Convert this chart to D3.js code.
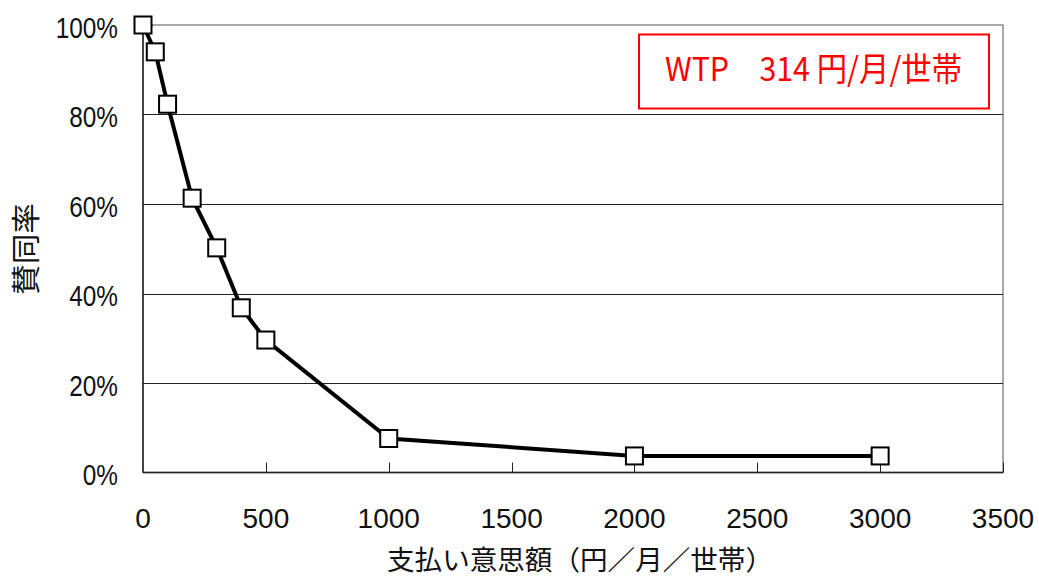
<!DOCTYPE html>
<html>
<head>
<meta charset="utf-8">
<script src="https://cdn.jsdelivr.net/npm/d3@7"></script>
<style>
    html, body { margin: 0; padding: 0; background: #fff; }
    svg { display: block; }
</style>
</head>
<body>
<svg id="chart" width="1039" height="579"></svg>
<script>
// Bid amounts (yen / month / household) and share of respondents agreeing
const bids = [0, 50, 100, 200, 300, 400, 500, 1000, 2000, 3000];
const agreeRate = [1.0, 0.94, 0.823, 0.613, 0.502, 0.368, 0.296, 0.076, 0.037, 0.037];

const xTicks = [0, 500, 1000, 1500, 2000, 2500, 3000, 3500];
const yTicks = [0, 0.2, 0.4, 0.6, 0.8, 1.0];

const xTitle = '支払い意思額（円／月／世帯）';
const yTitle = '賛同率';
const wtpLabel = 'WTP　314 円/月/世帯';

const svg = d3.select('#chart');
const plot = { left: 143, right: 1003, top: 25, bottom: 472.5 };

const x = d3.scaleLinear().domain([0, 3500]).range([plot.left, plot.right]);
const y = d3.scaleLinear().domain([0, 1]).range([plot.bottom, plot.top]);

const latin = '"Liberation Sans", Arial, sans-serif';
const cjk = '"Noto Sans CJK JP", "Noto Sans", sans-serif';

// Plot area border (grey, like Excel)
svg.append('rect')
    .attr('x', plot.left)
    .attr('y', plot.top)
    .attr('width', plot.right - plot.left)
    .attr('height', plot.bottom - plot.top)
    .attr('fill', 'none')
    .attr('stroke', '#8c8c8c')
    .attr('stroke-width', 1.5);

// Horizontal gridlines
svg.append('g')
    .selectAll('line')
    .data(yTicks.filter(t => t > 0 && t < 1))
    .enter()
    .append('line')
    .attr('x1', plot.left)
    .attr('x2', plot.right)
    .attr('y1', d => Math.round(y(d)) + 0.5)
    .attr('y2', d => Math.round(y(d)) + 0.5)
    .attr('stroke', '#222')
    .attr('stroke-width', 1);

// Axes lines
svg.append('line')
    .attr('x1', plot.left).attr('x2', plot.left)
    .attr('y1', plot.top).attr('y2', plot.bottom)
    .attr('stroke', '#222').attr('stroke-width', 1.5);
svg.append('line')
    .attr('x1', plot.left).attr('x2', plot.right)
    .attr('y1', plot.bottom).attr('y2', plot.bottom)
    .attr('stroke', '#222').attr('stroke-width', 1.5);

// Tick marks (pointing inside)
svg.append('g')
    .selectAll('line')
    .data(xTicks.filter(t => t > 0))
    .enter()
    .append('line')
    .attr('x1', d => Math.round(x(d)) + 0.5)
    .attr('x2', d => Math.round(x(d)) + 0.5)
    .attr('y1', plot.bottom)
    .attr('y2', plot.bottom - 10)
    .attr('stroke', '#222');

svg.append('g')
    .selectAll('line')
    .data(yTicks.filter(t => t > 0))
    .enter()
    .append('line')
    .attr('x1', plot.left)
    .attr('x2', plot.left + 10)
    .attr('y1', d => Math.round(y(d)) + 0.5)
    .attr('y2', d => Math.round(y(d)) + 0.5)
    .attr('stroke', '#222');

// Tick labels
svg.append('g')
    .selectAll('text')
    .data(xTicks)
    .enter()
    .append('text')
    .attr('x', d => x(d))
    .attr('y', plot.bottom + 55)
    .attr('text-anchor', 'middle')
    .style('font-family', latin)
    .style('font-size', '28px')
    .attr('fill', '#111')
    .text(d => d);

const pct = d3.format('.0%');
svg.append('g')
    .selectAll('text')
    .data(yTicks)
    .enter()
    .append('text')
    .attr('transform', d => `translate(118,${y(d) + 12.5}) scale(0.84,1)`)
    .attr('text-anchor', 'end')
    .style('font-family', latin)
    .style('font-size', '29px')
    .attr('fill', '#111')
    .text(d => pct(d));

// Axis titles
svg.append('text')
    .attr('x', 580)
    .attr('y', 570)
    .attr('text-anchor', 'middle')
    .attr('textLength', 386)
    .attr('lengthAdjust', 'spacingAndGlyphs')
    .style('font-family', cjk)
    .style('font-size', '27px')
    .attr('fill', '#111')
    .text(xTitle);

svg.append('text')
    .attr('transform', 'translate(37,249) rotate(-90)')
    .attr('text-anchor', 'middle')
    .attr('textLength', 92)
    .attr('lengthAdjust', 'spacingAndGlyphs')
    .style('font-family', cjk)
    .style('font-size', '29px')
    .attr('fill', '#111')
    .text(yTitle);

// Demand curve
const line = d3.line()
    .x((d, i) => x(bids[i]))
    .y(d => y(d));

svg.append('path')
    .datum(agreeRate)
    .attr('d', line)
    .attr('fill', 'none')
    .attr('stroke', '#000')
    .attr('stroke-width', 4)
    .attr('stroke-linejoin', 'miter');

// Square markers
const size = 17;
svg.append('g')
    .selectAll('rect')
    .data(agreeRate)
    .enter()
    .append('rect')
    .attr('x', (d, i) => x(bids[i]) - size / 2)
    .attr('y', d => y(d) - size / 2)
    .attr('width', size)
    .attr('height', size)
    .attr('fill', '#fff')
    .attr('stroke', '#000')
    .attr('stroke-width', 2);

// WTP annotation box
svg.append('rect')
    .attr('x', 639)
    .attr('y', 34.5)
    .attr('width', 350)
    .attr('height', 74)
    .attr('fill', '#fff')
    .attr('stroke', '#ff0000')
    .attr('stroke-width', 2);

svg.append('text')
    .attr('x', 665)
    .attr('y', 81)
    .attr('textLength', 297)
    .attr('lengthAdjust', 'spacingAndGlyphs')
    .style('font-family', cjk)
    .style('font-size', '33px')
    .attr('fill', '#ff0000')
    .text(wtpLabel);
</script>
</body>
</html>
